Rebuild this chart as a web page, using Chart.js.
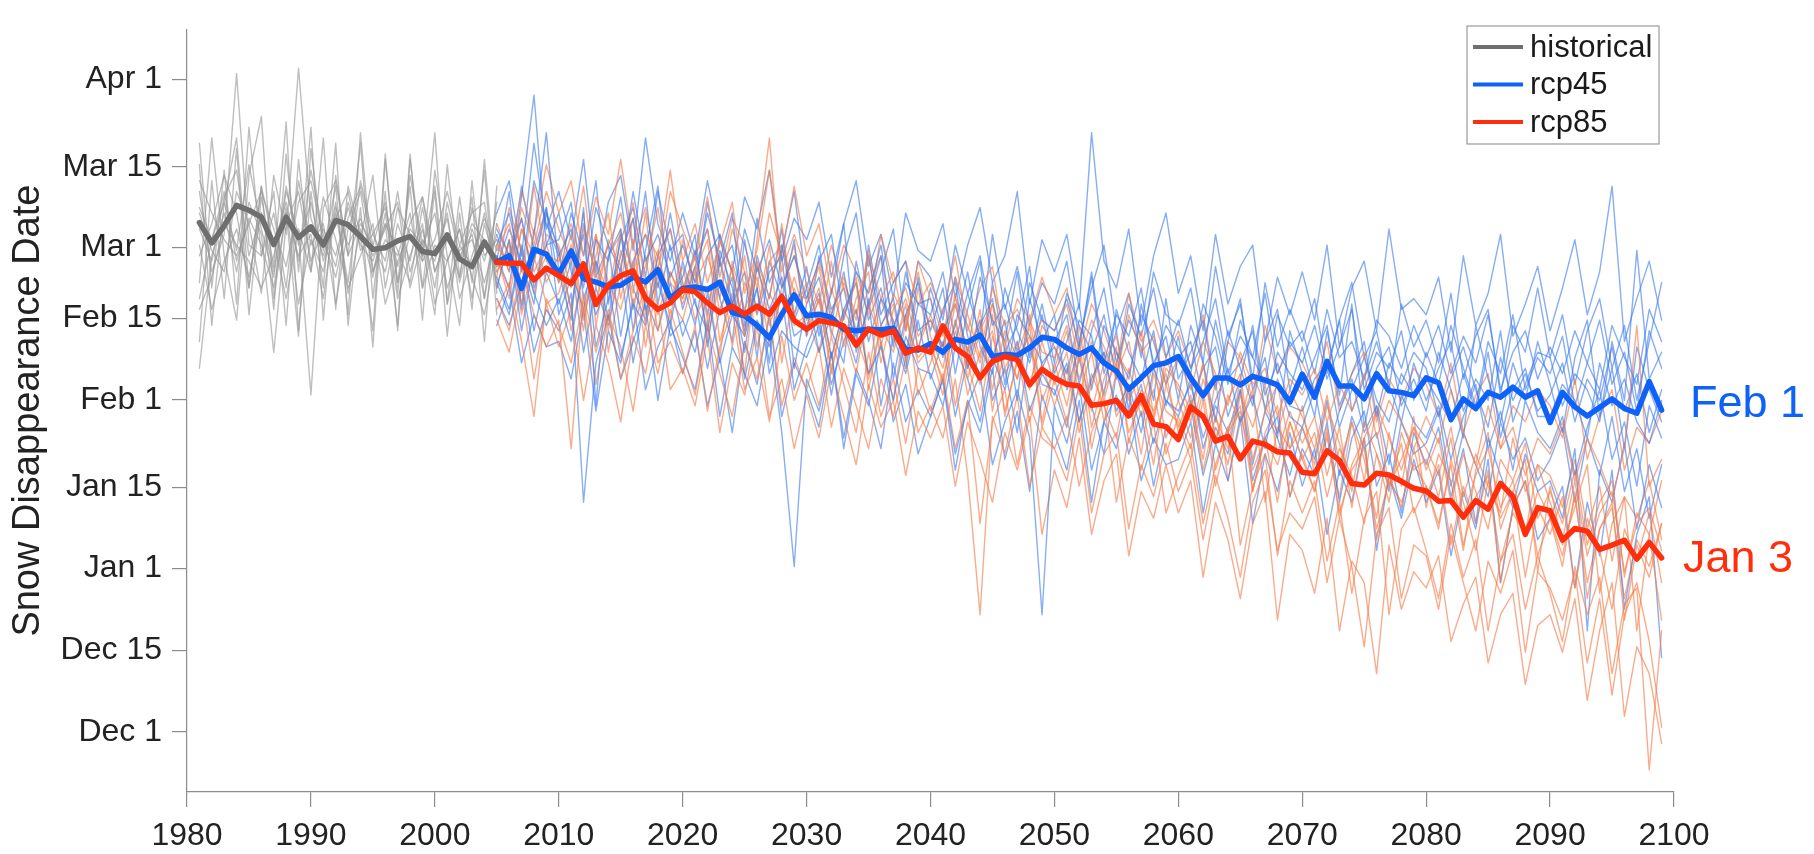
<!DOCTYPE html>
<html>
<head>
<meta charset="utf-8">
<script src="https://cdn.jsdelivr.net/npm/chart.js@4.4.1/dist/chart.umd.min.js"></script>
<style>
  html, body { margin: 0; padding: 0; background: #fff; }
  canvas { display: block; }
</style>
</head>
<body>
<canvas id="snowChart" width="1814" height="854"></canvas>
<script>
// y values are days after Jan 1 (negative = December)
const yTickValues = [90.9, 74.6, 59.6, 46.3, 31.1, 14.8, -0.4, -15.7, -30.9];
const yTickLabels = ["Apr 1", "Mar 15", "Mar 1", "Feb 15", "Feb 1", "Jan 15", "Jan 1", "Dec 15", "Dec 1"];

const range = (a, b) => { const r = []; for (let y = a; y <= b; y++) r.push(y); return r; };
const histYears = range(1981, 2005);
const rcpYears = range(2005, 2099);

const histMean = [64.2, 60.4, 63.6, 67.4, 66.5, 65.2, 60.1, 65.2, 61.4, 63.4, 60.0, 64.6, 63.8,
  61.6, 59.2, 59.5, 60.8, 61.6, 58.8, 58.4, 61.9, 57.4, 56.0, 60.6, 56.8];

const rcp45Mean = [56.8,
  58.0, 51.9, 59.2, 58.3,
  54.6, 58.9, 53.7, 53.1, 52.2, 52.5, 54.0, 53.1, 55.4, 50.1,
  51.9, 52.2, 51.7, 53.1, 47.4, 46.8, 45.0, 42.7, 47.1, 50.7,
  46.8, 47.1, 46.5, 44.3, 44.0, 44.3, 44.2, 44.5, 40.5, 40.4,
  41.6, 40.0, 42.4, 41.9, 43.2, 39.2, 39.6, 39.4, 40.8, 42.8,
  42.4, 40.8, 39.6, 40.8, 38.0, 36.5, 33.1, 35.2, 37.5, 38.0,
  39.2, 35.2, 31.9, 35.2, 35.2, 33.9, 35.5, 34.8, 33.9, 30.7,
  35.9, 31.6, 38.3, 33.7, 33.7, 31.3, 36.0, 32.8, 32.5, 31.9,
  35.2, 34.3, 27.4, 31.3, 29.5, 32.5, 31.6, 33.5, 31.6, 32.8,
  26.9, 32.5, 29.8, 28.1, 29.7, 31.3, 29.5, 28.6, 34.5, 29.2];

const rcp85Mean = [56.8,
  56.6, 56.6, 53.5, 55.7,
  54.3, 52.8, 56.5, 48.9, 52.5, 54.3, 55.2, 50.1, 48.0, 49.2,
  51.7, 51.3, 49.2, 47.4, 48.6, 47.1, 48.6, 47.1, 50.4, 45.9,
  44.3, 45.9, 45.5, 44.9, 41.3, 44.3, 43.2, 44.0, 39.8, 40.8,
  40.0, 44.9, 40.8, 39.2, 35.2, 38.3, 39.2, 38.6, 33.9, 36.8,
  35.2, 34.0, 33.7, 30.1, 30.4, 31.0, 28.1, 31.9, 26.6, 26.1,
  23.7, 29.8, 28.0, 23.4, 24.3, 20.1, 23.4, 22.8, 21.4, 21.2,
  17.6, 17.3, 21.6, 19.8, 15.5, 15.2, 17.4, 17.1, 15.9, 14.6,
  14.1, 12.2, 12.3, 9.2, 12.3, 10.7, 15.5, 13.1, 6.0, 11.0,
  10.4, 4.9, 7.1, 6.6, 3.2, 4.0, 4.9, 1.4, 4.5, 1.6];

// individual model runs (1981-2005)
const historicalRuns = [
  [70,55,62,92,60, 58,66,52,72,60, 64,49,63,70,55, 61,58,66,52,60, 57,63,50,64,55],
  [58,64,73,66,52, 71,60,68,57,74, 62,56,68,61,73, 52,64,57,69,55, 62,54,67,58,61],
  [50,61,68,59,75, 63,54,70,62,32, 67,72,58,64,60, 68,53,62,58,71, 49,60,56,66,52],
  [66,59,55,70,64, 51,73,62,93,65, 58,66,53,72,62, 57,70,55,63,52, 68,58,62,50,64],
  [75,45,68,80,52, 71,48,77,55,82, 46,73,58,79,50, 70,44,76,57,81, 49,69,53,74,47],
  [42,72,50,78,47, 69,56,83,44,70, 52,79,45,67,41, 76,53,71,46,74, 58,45,72,50,68],
  [79,52,74,49,82, 58,70,45,76,55, 80,48,71,62,44, 77,51,73,60,47, 75,54,69,42,71],
  [37,58,66,55,68, 62,40,64,70,57, 63,58,67,60,57, 64,59,53,67,55, 61,57,64,61,56],
  [60,48,57,63,54, 66,61,50,63,55, 69,61,52,58,64, 49,57,63,60,66, 52,59,61,53,62],
  [67,61,70,57,65, 60,52,66,58,62, 50,67,60,65,58, 63,68,52,61,57, 66,50,58,65,59],
  [63,57,69,74,58, 66,55,71,60,68, 57,65,70,59,62, 67,56,64,69,58, 65,53,63,57,66],
  [53,80,58,46,73, 84,50,66,43,78, 59,71,47,81,55, 64,45,77,52,70, 43,66,48,76,51],
  [72,66,61,58,64, 70,63,56,68,72, 61,54,65,71,60, 55,67,62,57,61, 70,60,66,68,53],
  [48,54,64,60,57, 52,58,67,49,61, 55,68,51,63,54, 66,50,58,64,49, 57,63,54,47,60]
];

// individual model runs (2005-2099)
const rcp45Runs = [
  [60,66,55,72,64,
   58,63,52,67,60,55,70,57,62,54, 60,53,66,57,49,63,55,61,52,58,
   50,57,62,46,55,51,60,44,53,49, 47,55,42,51,58,45,49,40,53,46,
   44,50,41,55,38,47,43,52,37,45, 41,36,49,43,34,46,39,51,36,42,
   38,45,35,41,48,33,40,37,44,31, 40,34,45,37,30,42,36,47,33,39,
   36,43,30,38,46,34,40,29,44,37],
  [54,48,60,51,45,
   50,42,56,47,53,39,49,45,55,43, 46,40,51,38,47,43,52,36,44,41,
   39,45,34,42,48,36,41,31,43,37, 36,30,41,35,27,39,33,42,29,36,
   32,38,27,35,40,29,34,25,37,31, 29,34,24,31,37,27,32,22,35,28,
   26,33,21,29,35,25,30,19,32,27, 24,30,20,28,34,22,29,18,31,25,
   22,28,17,26,33,20,27,15,30,24],
  [57,70,48,62,81,
   55,46,67,30,58,63,44,59,71,50, 54,62,41,57,66,45,52,38,60,47,
   56,43,51,64,40,49,58,35,47,53, 44,52,36,48,57,39,46,31,50,42,
   47,33,41,54,36,44,29,49,38,43, 31,45,38,27,42,50,33,39,24,44,
   36,28,44,32,49,26,37,41,30,35, 29,40,33,24,45,35,27,38,31,42,
   34,25,39,46,28,37,22,41,33,27],
  [63,58,65,52,60,
   66,55,48,61,57,69,52,46,58,63, 51,59,47,62,55,44,58,50,63,46,
   52,40,47,55,43,58,45,50,39,54, 40,48,53,37,45,50,34,47,43,38,
   41,36,46,43,32,48,40,35,44,30, 39,42,31,46,35,38,44,29,40,36,
   33,39,45,30,36,42,28,38,34,40, 37,28,35,41,33,26,39,31,36,29,
   32,38,27,35,31,41,29,36,25,33],
  [52,61,44,57,67,
   47,54,62,41,50,58,65,48,53,45, 57,49,44,59,52,40,56,48,54,43,
   45,51,39,48,53,42,50,46,37,49, 50,39,45,55,41,36,52,44,38,47,
   36,42,49,33,45,40,35,47,42,34, 43,30,37,41,28,35,45,32,38,30,
   29,35,38,26,33,39,31,27,36,32, 35,31,27,36,29,40,24,33,37,28,
   28,34,31,24,38,30,35,27,23,31],
  [58,52,69,88,60,
   61,68,50,57,46,62,55,70,49,60, 48,56,63,50,42,61,47,55,58,37,
   49,54,44,38,57,46,52,41,55,44, 46,41,54,43,35,53,40,45,56,37,
   42,47,34,44,52,38,46,41,31,50, 35,40,46,33,44,37,30,42,48,33,
   41,32,37,46,29,35,42,34,27,38, 31,37,42,29,35,31,44,27,34,40,
   39,30,36,33,27,42,31,59,35,40],
  [50,45,53,40,48,
   44,51,12,38,47,35,42,49,31,45, 39,33,46,28,41,36,30,43,25,0,
   35,29,40,24,37,31,22,38,27,33, 28,35,21,30,36,19,27,33,24,-9,
   30,23,34,18,27,32,21,29,15,26, 24,30,17,26,21,33,16,24,28,13,
   22,17,27,12,24,29,15,21,10,25, 19,26,13,22,8,24,17,11,21,14,
   16,9,22,-12,18,12,23,7,19,11],
  [56,63,57,49,66,
   59,48,64,54,60,43,57,62,52,66, 53,45,58,62,49,55,39,57,50,61,
   43,58,48,52,41,60,47,53,57,40, 52,44,49,40,54,46,42,55,39,49,
   38,51,45,40,47,35,49,43,52,39, 46,37,42,50,36,43,39,34,47,41,
   44,36,48,39,42,35,46,43,37,45, 39,45,36,43,38,47,33,40,44,35,
   41,36,44,38,33,45,39,34,48,42],
  [66,72,58,79,63,
   70,61,76,55,68,73,59,80,64,57, 66,58,72,61,55,69,63,74,57,65,
   61,68,54,64,72,56,62,50,66,59, 57,64,50,60,67,53,58,70,49,61,
   55,62,48,81,57,52,63,45,58,66, 51,58,44,62,49,56,60,42,54,47,
   55,46,60,41,52,57,44,63,48,50, 47,54,40,58,45,51,62,43,49,56,
   44,52,61,47,55,71,42,50,57,46],
  [45,52,38,47,41,
   42,35,48,29,44,38,50,33,41,46, 36,44,30,39,25,42,34,47,28,38,
   33,26,40,22,36,30,42,27,34,21, 28,35,18,31,25,37,20,29,14,32,
   25,18,31,12,27,22,33,16,24,19, 20,27,10,23,16,28,8,21,14,25,
   15,22,6,18,12,24,3,17,9,20, 12,18,2,14,7,20,-3,11,16,5,
   9,15,-4,12,2,18,-8,6,13,-17],
  [62,55,71,59,67,
   53,66,58,72,49,61,67,54,70,59, 62,51,68,56,60,47,65,53,59,70,
   52,60,45,58,66,48,55,63,44,57, 54,46,60,51,43,62,48,56,45,53,
   49,57,42,52,60,44,51,39,55,47, 45,52,38,56,43,49,35,53,41,48,
   42,50,36,46,53,39,44,33,49,41, 46,38,51,35,43,48,32,45,40,52,
   39,47,34,44,50,37,45,31,42,53],
  [53,47,59,44,55,
   49,57,40,52,45,56,38,50,44,53, 43,50,37,48,54,35,46,41,51,33,
   41,47,32,45,38,50,30,43,36,46, 35,42,28,39,46,31,37,25,41,34,
   33,26,39,30,21,36,28,34,23,31, 28,35,22,30,25,33,19,29,24,17,
   26,20,31,17,28,22,25,14,27,21, 23,29,15,25,19,13,27,20,24,16,
   20,26,12,24,17,28,14,22,9,19]
];

const rcp85Runs = [
  [59,64,52,71,57,
   54,62,47,58,66,50,61,45,56,63, 52,58,46,61,55,43,57,50,64,47,
   53,45,57,41,50,55,38,48,52,43, 46,40,51,35,44,49,37,42,33,45,
   41,34,45,29,38,43,31,36,27,39, 33,27,38,24,31,36,20,29,34,22,
   26,19,30,23,14,27,21,12,25,18, 20,13,24,9,17,22,11,16,6,19,
   12,5,16,2,10,14,-1,8,11,3],
  [61,55,67,60,70,
   63,57,71,52,60,66,55,62,58,74, 57,64,53,60,68,51,59,74,55,62,
   55,49,60,52,46,58,50,55,44,57, 50,43,54,47,39,52,45,48,41,46,
   44,49,38,46,41,35,47,40,43,34, 39,33,42,36,30,40,34,37,28,35,
   32,37,27,34,29,36,24,31,27,22, 28,23,33,25,19,30,22,26,17,24,
   21,27,16,24,19,13,22,45,15,20],
  [50,44,56,47,41,
   46,22,51,40,48,35,44,53,38,42, 36,45,29,41,48,33,39,27,43,31,
   38,30,43,34,25,40,28,35,23,37, 29,36,22,31,8,27,33,19,30,24,
   22,28,15,25,31,12,24,18,27,10, 17,23,8,19,26,4,15,21,2,16,
   10,16,1,12,-5,9,14,-9,7,11, 3,-6,8,-2,5,-12,1,6,-8,2,
   -5,-14,0,-9,-2,-20,-7,-4,-38,-12],
  [55,60,49,63,53,
   58,48,63,55,44,59,51,66,47,55, 49,55,44,58,41,53,47,60,38,52,
   44,50,37,47,53,35,45,40,49,32, 38,45,30,41,34,47,28,39,43,26,
   35,27,40,22,33,38,25,31,19,34, 26,32,18,28,22,35,14,25,30,13,
   21,14,26,9,19,24,5,17,11,22, 13,19,4,15,8,18,-3,11,16,2,
   9,0,14,-6,7,12,-10,4,-2,8],
  [57,52,63,58,49,
   51,59,44,62,53,48,57,41,54,50, 56,46,52,39,57,48,54,42,51,45,
   47,40,52,44,36,49,42,31,46,39, 42,34,46,38,29,43,36,40,27,38,
   30,37,25,34,40,28,33,21,36,29, 27,20,31,15,25,29,18,24,12,27,
   20,25,13,22,17,8,21,15,23,10, 15,7,20,12,3,16,9,14,-2,11,
   6,13,-4,9,3,-8,7,1,10,-3],
  [54,67,59,51,62,
   60,52,66,45,58,62,49,56,67,53, 50,58,63,47,56,43,61,80,52,58,
   49,56,43,53,47,59,41,51,46,55, 43,37,49,40,46,33,44,39,47,31,
   37,44,32,40,27,36,42,30,38,24, 31,24,35,28,19,32,26,34,21,29,
   23,28,17,26,11,24,29,15,20,26, 18,24,12,21,14,7,20,16,23,9,
   14,8,18,4,12,16,-2,10,6,-10],
  [48,53,42,28,50,
   45,38,50,34,47,41,29,45,36,48, 40,32,45,36,28,42,35,47,30,39,
   33,41,26,37,30,22,35,28,39,25, 30,24,35,17,-9,28,21,32,15,26,
   22,16,28,10,21,25,7,19,13,23, 14,20,5,17,9,-2,12,18,3,10,
   7,13,-3,9,0,-15,6,11,-6,4, 2,-8,6,-3,-12,1,-5,3,-16,-1,
   -4,-10,-1,-18,-6,-24,-9,-3,-14,-30],
  [60,56,65,53,58,
   57,64,55,49,61,56,68,52,59,46, 61,53,58,50,63,55,48,57,60,51,
   50,57,47,54,44,52,58,45,50,41, 47,41,50,45,38,49,42,35,46,40,
   39,45,35,42,31,40,36,44,28,37, 34,29,38,23,32,27,36,30,25,33,
   28,22,32,19,27,16,30,24,18,26, 22,17,26,13,21,15,10,24,14,19,
   17,11,20,7,15,1,13,9,16,5],
  [64,58,70,62,75,
   66,72,58,69,62,76,60,67,55,70, 63,57,69,54,65,60,52,66,58,71,
   58,64,51,60,55,47,62,53,57,49, 53,47,58,44,52,56,41,50,46,54,
   47,52,40,49,44,37,51,42,46,39, 44,37,47,34,42,39,31,45,36,41,
   38,33,42,29,36,40,27,35,31,37, 34,28,38,25,32,36,22,30,27,33,
   30,24,35,20,28,33,18,26,23,29],
  [46,40,52,35,49,
   41,48,31,45,38,27,43,36,49,33, 37,30,43,25,38,32,45,28,35,22,
   32,24,37,28,19,34,26,31,17,29, 24,30,15,27,20,12,25,18,28,6,
   18,11,24,6,16,21,2,14,9,19, 10,16,-2,12,5,-6,8,14,-10,6,
   3,-5,9,-12,1,-3,-20,4,-8,-1, -4,2,-14,-7,-2,-18,-9,-5,-22,-11,
   -9,-16,-6,-25,-12,-3,-28,-15,-20,-33],
  [58,50,63,55,60,
   53,60,46,57,51,63,48,58,44,55, 50,56,43,53,47,58,41,51,46,54,
   46,52,39,48,43,36,50,42,47,38, 41,35,46,32,40,44,29,38,34,42,
   34,40,27,36,30,24,37,28,33,21, 28,22,33,18,26,30,14,24,19,27,
   20,14,25,10,18,22,7,16,12,19, 15,8,19,4,13,17,1,10,6,14,
   9,2,13,-3,7,11,-6,5,0,8],
  [52,61,47,57,66,
   59,44,55,62,40,53,65,47,58,50, 46,55,61,42,51,36,57,45,52,60,
   43,50,36,47,54,33,45,49,38,52, 40,32,44,37,48,29,41,35,45,27,
   38,30,42,26,35,41,23,33,29,36, 25,31,20,35,16,27,33,12,26,22,
   30,17,24,13,27,20,9,25,15,28, 11,21,16,3,18,25,7,14,20,-1,
   15,4,11,19,-5,8,13,-12,6,16]
];

const legendItems = [
  { label: "historical", color: "#6f6f6f" },
  { label: "rcp45", color: "#0f62f7" },
  { label: "rcp85", color: "#ff2e0c" }
];
const endLabels = [
  { text: "Feb 1", value: 30.3, color: "#0f62f7" },
  { text: "Jan 3", value: 1.2, color: "#ff2e0c" }
];

const FONT = "'Liberation Sans', Arial, Helvetica, sans-serif";
const AXIS_GRAY = "#8c8c8c";

function toPoints(years, values) {
  return values.map((v, i) => ({ x: years[i], y: v }));
}

function runSet(years, values, color) {
  return { data: toPoints(years, values), borderColor: color, borderWidth: 1.4, order: 5 };
}

const datasets = [
  { data: toPoints(rcpYears, rcp85Mean), borderColor: "#ff2e0c", borderWidth: 5.5, order: 0 },
  { data: toPoints(rcpYears, rcp45Mean), borderColor: "#0f62f7", borderWidth: 5.5, order: 1 },
  { data: toPoints(histYears, histMean), borderColor: "#6f6f6f", borderWidth: 5.5, order: 2 }
];
historicalRuns.forEach(r => datasets.push(runSet(histYears, r, "rgba(150,150,150,0.62)")));
for (let i = 0; i < rcp45Runs.length; i++) {
  datasets.push(runSet(rcpYears, rcp85Runs[i], "rgba(245,128,78,0.65)"));
  datasets.push(runSet(rcpYears, rcp45Runs[i], "rgba(62,122,236,0.62)"));
}

const legendBox = {
  id: "legendBox",
  afterDraw(chart) {
    const ctx = chart.ctx;
    ctx.save();
    ctx.fillStyle = "#fff";
    ctx.strokeStyle = "#9a9a9a";
    ctx.lineWidth = 1.2;
    ctx.fillRect(1467, 26, 192, 118);
    ctx.strokeRect(1467, 26, 192, 118);
    ctx.font = "31px " + FONT;
    ctx.textBaseline = "middle";
    ctx.textAlign = "left";
    legendItems.forEach((item, i) => {
      const y = 47 + i * 37.5;
      ctx.strokeStyle = item.color;
      ctx.lineWidth = 4;
      ctx.beginPath();
      ctx.moveTo(1473, y);
      ctx.lineTo(1523, y);
      ctx.stroke();
      ctx.fillStyle = "#1a1a1a";
      ctx.fillText(item.label, 1530, y + 1);
    });
    ctx.restore();
  }
};

const endText = {
  id: "endText",
  afterDraw(chart) {
    const ctx = chart.ctx;
    const yScale = chart.scales.y;
    ctx.save();
    ctx.font = "45px " + FONT;
    ctx.textBaseline = "middle";
    ctx.textAlign = "left";
    endLabels.forEach((l, i) => {
      ctx.fillStyle = l.color;
      ctx.fillText(l.text, chart.chartArea.right + (i === 0 ? 16 : 9), yScale.getPixelForValue(l.value));
    });
    ctx.restore();
  }
};

new Chart(document.getElementById("snowChart").getContext("2d"), {
  type: "line",
  data: { datasets },
  options: {
    responsive: false,
    animation: false,
    layout: { padding: { top: 9, right: 140, left: 0, bottom: 0 } },
    elements: { point: { radius: 0 }, line: { tension: 0, borderCapStyle: "round", borderJoinStyle: "round" } },
    plugins: { legend: { display: false }, tooltip: { enabled: false } },
    scales: {
      x: {
        type: "linear",
        min: 1980,
        max: 2100,
        afterFit: s => { s.height = 62; },
        ticks: { stepSize: 10, callback: v => String(v), color: "#222", padding: 10, font: { size: 32, family: FONT } },
        grid: { drawOnChartArea: false, tickLength: 15, color: AXIS_GRAY, lineWidth: 1.2 },
        border: { color: AXIS_GRAY, width: 1.2 }
      },
      y: {
        type: "linear",
        min: -42.1,
        max: 100.3,
        afterFit: s => { s.width = 187; },
        afterBuildTicks: s => { s.ticks = yTickValues.map(v => ({ value: v })); },
        ticks: { callback: (v, i) => yTickLabels[i], color: "#222", padding: 10, font: { size: 32, family: FONT } },
        grid: { drawOnChartArea: false, tickLength: 15, color: AXIS_GRAY, lineWidth: 1.2 },
        border: { color: AXIS_GRAY, width: 1.2 },
        title: {
          display: true,
          text: "Snow Disappearance Date",
          color: "#222",
          font: { size: 38, family: FONT },
          padding: { top: 6, bottom: 0 }
        }
      }
    }
  },
  plugins: [legendBox, endText]
});
</script>
</body>
</html>
